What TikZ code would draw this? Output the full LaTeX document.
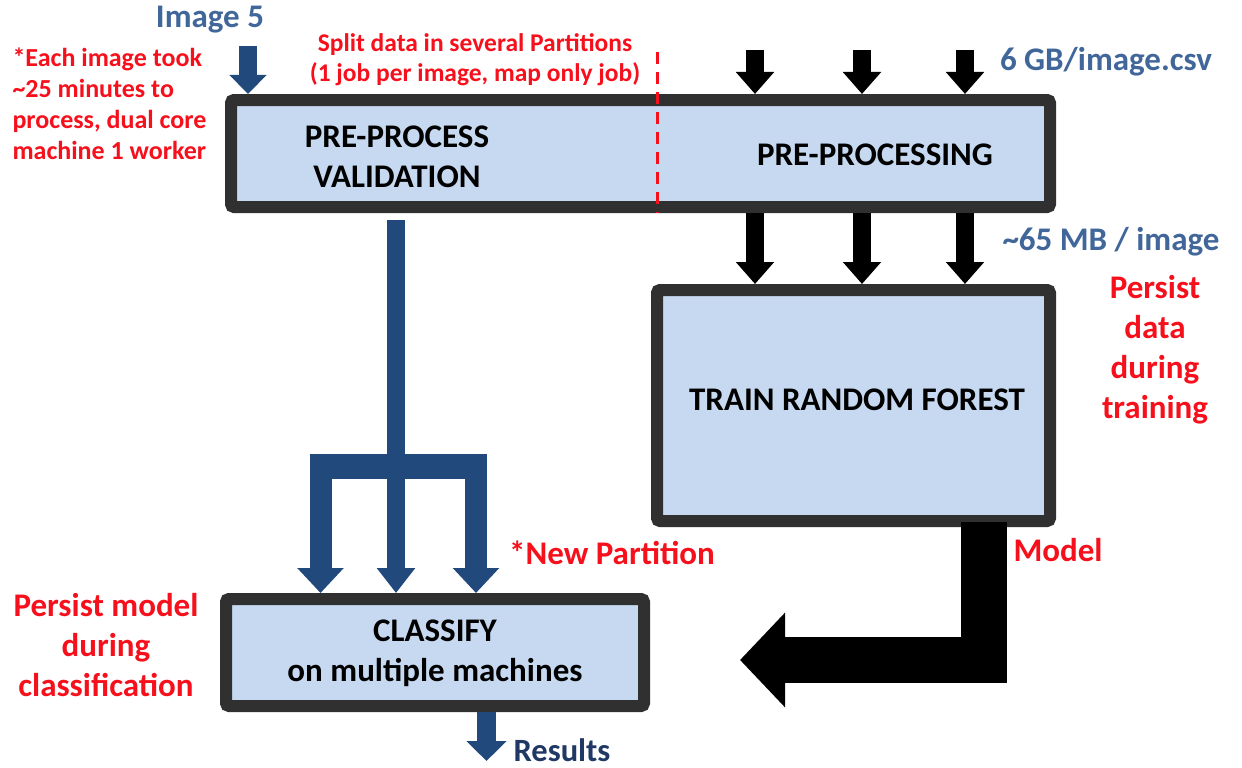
\documentclass[tikz,border=0pt]{standalone}
\usepackage{fontspec}
\setmainfont{Carlito}
\usepackage{xcolor}
\usetikzlibrary{calc,arrows.meta}
\definecolor{boxfill}{HTML}{C6D9F1}
\definecolor{boxline}{HTML}{303030}
\definecolor{pipe}{HTML}{21497B}
\definecolor{note}{HTML}{F5101C}
\definecolor{info}{HTML}{41679A}
\definecolor{navy}{HTML}{1F3864}
\newcommand{\fsz}[2]{\fontsize{#1}{#2}\selectfont\bfseries}
\tikzset{
  stage/.style={draw=boxline, fill=boxfill, line width=12pt, rounded corners=3pt, inner sep=0pt},
  stagetext/.style={text=black, align=center, font=\fsz{33}{40}},
  notetext/.style={text=note, align=center, font=\fsz{33}{40}},
  infotext/.style={text=info, font=\fsz{33}{36}},
  blackarrow/.style={draw=black, line width=18pt, -{Triangle[width=37pt,length=22pt]}},
  bluearrow/.style={draw=pipe, line width=22pt, -{Triangle[width=45pt,length=25pt]}},
  bluepipe/.style={draw=pipe, line width=18pt}
}
\begin{document}
\begin{tikzpicture}[x=1pt,y=-1pt]
  \useasboundingbox (0,0) rectangle (1242,768);

  % boxes
  \node[stage, minimum width=819pt, minimum height=107pt] (prep) at (640.5,153.5) {};
  \node[stage, minimum width=393pt, minimum height=231pt] (train) at (853.5,405.5) {};
  \node[stage, minimum width=418pt, minimum height=107pt] (classify) at (435,652.5) {};

  \node[stagetext] (valtext) at (397,157) {PRE-PROCESS\\VALIDATION};
  \node[stagetext] (preptext) at (875,155) {PRE-PROCESSING};
  \node[stagetext] (traintext) at (857,400) {TRAIN RANDOM FOREST};
  \node[stagetext] (classtext) at (435,653) {CLASSIFY\\on multiple machines};

  % split line
  \coordinate (splittop) at (657,52);
  \draw[note, line width=3pt, dash pattern=on 12pt off 8pt] (splittop) -- (splittop |- prep.south);

  % input image
  \node[infotext] (img) at (210,20) {Image 5};
  \coordinate (imgin) at (248,46);
  \draw[draw=pipe, line width=18pt, -{Triangle[width=36pt,length=19pt]}] (imgin) -- (imgin |- prep.north);

  % data in / out of pre-processing
  \foreach \x in {755,862,965}{
    \coordinate (in\x) at (\x,50);
    \coordinate (out\x) at (\x,213);
    \draw[blackarrow] (in\x) -- (in\x |- prep.north);
    \draw[blackarrow] (out\x) -- (out\x |- train.north);
  }
  \node[infotext] (csv) at (1106,62) {6 GB/image.csv};
  \node[infotext] (mb) at (1111,242) {\textasciitilde65 MB / image};

  % validation fork
  \coordinate (stem) at (396,220);
  \coordinate (forkl) at (320.5,466);
  \coordinate (forkr) at (476,466);
  \draw[draw=pipe, line width=25pt] ([xshift=-10.5pt]forkl) -- ([xshift=11pt]forkr);
  \draw[bluepipe, -{Triangle[width=37pt,length=25pt]}] (stem) -- (stem |- classify.north);
  \draw[bluearrow] ([yshift=-12pt]forkl) -- (forkl |- classify.north);
  \draw[bluearrow] ([yshift=-12pt]forkr) -- (forkr |- classify.north);
  \node[text=note, font=\fsz{33}{36}] (newpart) at (612,553) {*New Partition};

  % model back to classify
  \coordinate (modelout) at (984,522);
  \coordinate (modelin) at (740,660);
  \draw[draw=black, line width=46pt, -{Triangle[width=92pt,length=45pt]}]
    (modelout) |- (modelin);
  \node[text=note, font=\fsz{33}{36}] (model) at (1058,550) {Model};

  % results
  \coordinate (resout) at (486.5,712);
  \draw[draw=pipe, line width=19pt, -{Triangle[width=39pt,length=20pt]}] (resout) -- (486.5,761);
  \node[text=navy, font=\fsz{32.5}{36}] (results) at (562,750) {Results};

  % notes
  \node[text=note, align=left, anchor=west, font=\fsz{26}{31}] (timing) at (9,104)
    {*Each image took\\\textasciitilde25 minutes to\\process, dual core\\machine 1 worker};
  \node[text=note, align=center, font=\fsz{25.5}{30}] (split) at (475,60)
    {Split data in several Partitions\\(1 job per image, map only job)};
  \node[notetext] (persistmodel) at (106,645) {Persist model\\during\\classification};
  \node[notetext] (persistdata) at (1155,350) {Persist\\data\\during\\training};
\end{tikzpicture}
\end{document}
